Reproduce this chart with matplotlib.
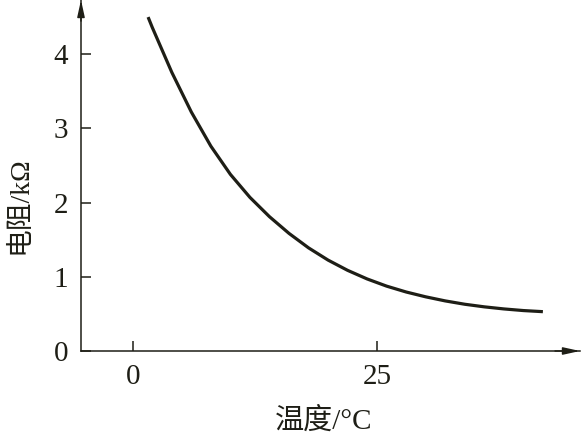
import matplotlib
matplotlib.use("Agg")
import matplotlib.pyplot as plt

# ── data ─────────────────────────────────────────────────────
temp_c = [1.57, 2, 4, 6, 8, 10, 12, 14, 16, 18, 20, 22, 24, 26, 28, 30,
          32, 34, 36, 38, 40, 42]
resist_kohm = [4.50, 4.36, 3.755, 3.22, 2.76, 2.38, 2.07, 1.81, 1.585, 1.39,
               1.225, 1.087, 0.971, 0.874, 0.795, 0.73, 0.675, 0.63, 0.595,
               0.567, 0.545, 0.53]
x_ticks = [0, 25]
y_ticks = [0, 1, 2, 3, 4]
x_label = "温度/°C"
y_label = "电阻/kΩ"

INK = "#1e1e16"
fam = ["Liberation Serif", "Noto Sans CJK SC"]

fig = plt.figure(figsize=(5.81, 4.41), dpi=100)
ax = fig.add_axes([81 / 581, 1 - 351 / 441, 499 / 581, 351 / 441])

ax.plot(temp_c, resist_kohm, color=INK, linewidth=2.3,
        solid_capstyle="butt", solid_joinstyle="round")

ax.set_xlim(-5.3, 45.8)
ax.set_ylim(0, 4.73)
ax.set_xticks(x_ticks)
ax.set_yticks(y_ticks)
ax.tick_params(direction="in", length=7, width=1.1, color=INK, pad=9,
               labelsize=21, labelcolor=INK)
for lbl in ax.get_xticklabels() + ax.get_yticklabels():
    lbl.set_family(fam)

for side in ("top", "right"):
    ax.spines[side].set_visible(False)
for side in ("left", "bottom"):
    ax.spines[side].set_linewidth(1.1)
    ax.spines[side].set_color(INK)

# arrow heads on the axes
arrow = dict(arrowstyle="-|>,head_length=1.0,head_width=0.22", color=INK, lw=1.1,
             shrinkA=0, shrinkB=0)
ax.annotate("", xy=(1.0, 0), xytext=(0.95, 0), xycoords="axes fraction",
            arrowprops=arrow, annotation_clip=False)
ax.annotate("", xy=(0, 1.0), xytext=(0, 0.94), xycoords="axes fraction",
            arrowprops=arrow, annotation_clip=False)

ax.set_xlabel(x_label, fontsize=21, family=fam, color=INK)
ax.set_ylabel(y_label, fontsize=20, family=fam, color=INK)
ax.xaxis.set_label_coords(0.487, -0.162)
ax.yaxis.set_label_coords(-0.098, 0.416)

fig.savefig("out.png", dpi=100)
